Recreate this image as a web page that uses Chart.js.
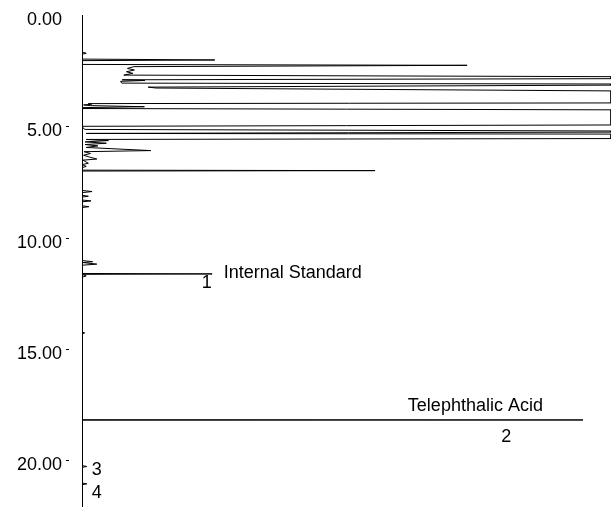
<!DOCTYPE html>
<html>
<head>
<meta charset="utf-8">
<script src="https://cdn.jsdelivr.net/npm/chart.js@4"></script>
<style>
  html, body { margin: 0; padding: 0; background: #fff; overflow: hidden; }
  #wrap { position: relative; width: 613px; height: 507px; }
</style>
</head>
<body>
<div id="wrap"><canvas id="chrom"></canvas></div>
<script>
// retention time (min) and detector response (% of full scale, clipped at 100)
const retentionTimes = [
  0, 1.66, 1.72, 1.76, 1.98, 2.02, 2.05, 2.22, 2.26, 2.32,
  2.40, 2.47, 2.55, 2.62, 2.70, 2.77, 2.86, 2.91, 2.94, 2.98,
  3.06, 3.10, 3.15, 3.24, 3.28, 3.41, 3.95, 3.98, 4.01, 4.04,
  4.07, 4.12, 4.16, 4.20, 4.26, 4.94, 5.00, 5.10, 5.14, 5.21,
  5.26, 5.32, 5.35, 5.55, 5.59, 5.64, 5.70, 5.76, 5.82, 5.88,
  5.95, 6.09, 6.14, 6.22, 6.30, 6.38, 6.47, 6.52, 6.66, 6.72,
  6.80, 6.86, 6.97, 6.99, 7.01, 7.88, 7.93, 7.98, 8.10, 8.14,
  8.18, 8.31, 8.35, 8.39, 8.57, 8.61, 8.65, 11.03, 11.08, 11.12,
  11.19, 11.24, 11.61, 11.63, 11.65, 11.72, 11.78, 14.24, 14.28, 14.33,
  18.18, 18.19, 18.20, 20.24, 20.28, 20.32, 21.02, 21.06, 21.10, 22.1
];
const intensities = [
  0, 0, 0.8, 0, 0, 25.1, 0, 0, 72.8, 9.8,
  8.6, 9.9, 8.4, 9.6, 7.9, 100, 100, 7.6, 11.9, 7.3,
  7.5, 100, 100, 12.5, 14.0, 100, 100, 1.2, 1.8, 0.3,
  1.6, 11.8, 0.2, 0, 100, 100, 0, 0.3, 0.6, 100,
  100, 0.8, 100, 100, 0.8, 5.0, 0.6, 4.6, 0.6, 3.0,
  0.8, 13.0, 0.4, 1.6, 0.3, 1.4, 2.8, 0.2, 1.2, 0,
  0.8, 0, 0, 55.4, 0, 0, 1.9, 0, 0, 1.2,
  0, 0, 1.7, 0, 0, 1.3, 0, 0, 2.0, 0.2,
  2.8, 0, 0, 24.6, 0, 0.8, 0, 0, 0.5, 0,
  0, 94.7, 0, 0, 0.9, 0, 0, 0.9, 0, 0
];

const timeTicks = [0, 5, 10, 15, 20];

// peak numbers and compound names
const peakNumbers = ["1", "2", "3", "4"];
const numberTimes = [12.03, 18.95, 20.43, 21.46];
const numberValues = [23.6, 80.2, 2.8, 2.8];

const compoundNames = ["Internal Standard", "Telephthalic Acid"];
const nameTimes = [11.59, 17.56];
const nameValues = [26.8, 61.6];

const points = retentionTimes.map((t, i) => ({ x: intensities[i], y: t }));

const FONT = '"Liberation Sans", Arial, sans-serif';

const labelPlugin = {
  id: "peakLabels",
  afterDraw(chart) {
    const ctx = chart.ctx;
    const xs = chart.scales.x, ys = chart.scales.y;
    ctx.save();
    ctx.fillStyle = "#000";
    ctx.font = "18px " + FONT;
    ctx.textBaseline = "middle";

    ctx.textAlign = "center";
    peakNumbers.forEach((n, i) => {
      ctx.fillText(n, xs.getPixelForValue(numberValues[i]), ys.getPixelForValue(numberTimes[i]));
    });

    ctx.textAlign = "left";
    compoundNames.forEach((n, i) => {
      ctx.fillText(n, xs.getPixelForValue(nameValues[i]), ys.getPixelForValue(nameTimes[i]));
    });

    // little dash next to each time label
    ctx.strokeStyle = "#000";
    ctx.lineWidth = 1;
    const left = chart.chartArea.left;
    timeTicks.forEach(t => {
      if (t === 0) return;
      const y = Math.round(ys.getPixelForValue(t)) + 0.5;
      ctx.beginPath();
      ctx.moveTo(left - 16, y);
      ctx.lineTo(left - 13, y);
      ctx.stroke();
    });
    ctx.restore();
  }
};

new Chart(document.getElementById("chrom"), {
  type: "scatter",
  data: {
    datasets: [{
      data: points,
      showLine: true,
      borderColor: "#000",
      borderWidth: 1,
      pointRadius: 0,
      tension: 0,
      fill: false
    }]
  },
  options: {
    responsive: true,
    maintainAspectRatio: false,
    animation: false,
    events: [],
    layout: { padding: { top: 15, right: 2, bottom: 0, left: 0 } },
    plugins: {
      legend: { display: false },
      tooltip: { enabled: false }
    },
    scales: {
      x: {
        type: "linear",
        display: false,
        min: 0,
        max: 100
      },
      y: {
        type: "linear",
        reverse: true,
        min: 0,
        max: 22.1,
        afterBuildTicks: scale => {
          scale.ticks = timeTicks.map(v => ({ value: v }));
        },
        afterFit: scale => {
          scale.width = 82;
          scale.paddingTop = 0;
          scale.paddingBottom = 0;
        },
        grid: { display: true, drawOnChartArea: false, drawTicks: false },
        border: { display: true, color: "#000", width: 1 },
        ticks: {
          color: "#000",
          padding: 20,
          labelOffset: 5,
          font: { family: FONT, size: 18 },
          callback: v => Number(v).toFixed(2)
        }
      }
    }
  },
  plugins: [labelPlugin]
});
</script>
</body>
</html>
